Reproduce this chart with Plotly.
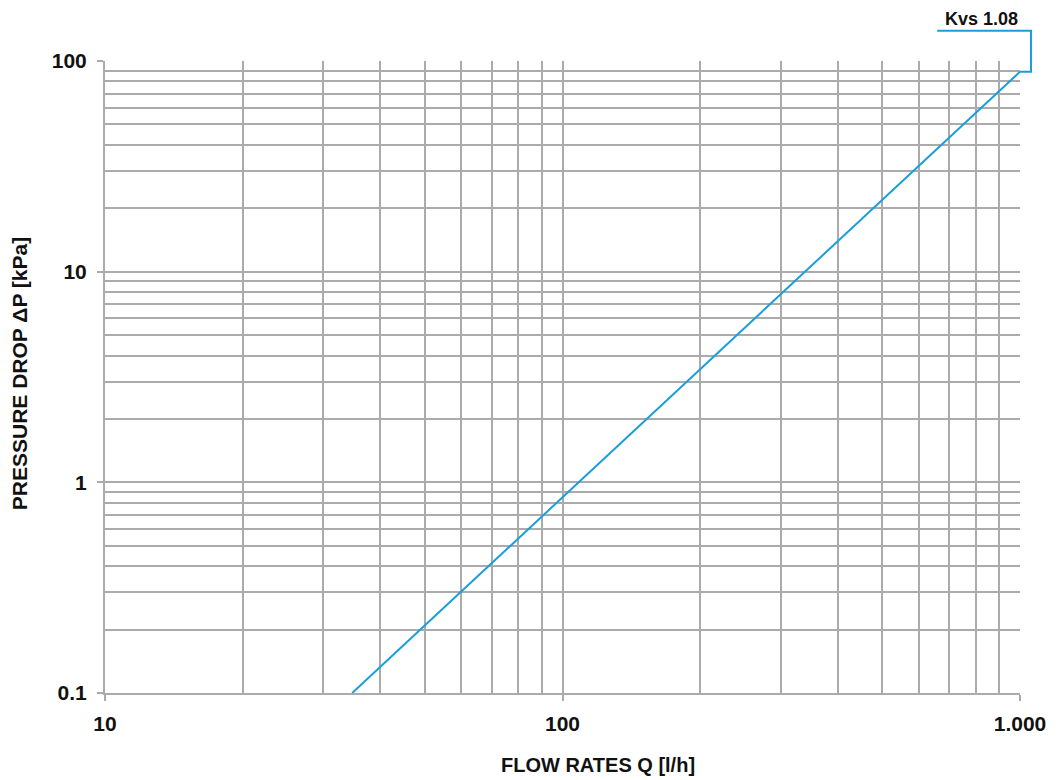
import plotly.graph_objects as go
import numpy as np

# Pressure-drop curve for the valve (end points read at the chart frame)
flow_lh = [34.7, 1000]
dp_kpa = [0.1, 89]
kvs_label = "Kvs 1.08"

x_major = [10, 100, 1000]
x_major_text = ["10", "100", "1.000"]
x_minor = [20, 30, 40, 50, 60, 70, 80, 90, 200, 300, 400, 500, 600, 700, 800, 900]
y_major = [0.1, 1, 10, 100]
y_major_text = ["0.1", "1", "10", "100"]
y_minor = [0.2, 0.3, 0.4, 0.5, 0.6, 0.7, 0.8, 0.9,
           2, 3, 4, 5, 6, 7, 8, 9,
           20, 30, 40, 50, 60, 70, 80, 90]

X_RANGE = [1, 3]
Y_RANGE = [-1, 2]

GRID = "#ababab"
BLUE = "#1a9edb"
INK = "#111111"
FONT = "Liberation Sans, Arial, sans-serif"

fig = go.Figure()
fig.add_trace(go.Scatter(x=flow_lh, y=dp_kpa, mode="lines",
                         line=dict(color=BLUE, width=2), showlegend=False,
                         hoverinfo="skip"))


def to_paper(v, rng):
    return (np.log10(v) - rng[0]) / (rng[1] - rng[0])


# Leader from the curve end up to the Kvs label
px0 = to_paper(flow_lh[-1], X_RANGE)
py0 = to_paper(dp_kpa[-1], Y_RANGE)
elbow_x = px0 + 0.012
top_y = 1.048
left_x = px0 - 0.0905
path = (f"M {px0},{py0} L {elbow_x},{py0} L {elbow_x},{top_y} L {left_x},{top_y}")
fig.add_shape(type="path", path=path, xref="paper", yref="paper",
              line=dict(color=BLUE, width=2))

axis_common = dict(
    showline=True, linecolor=GRID, linewidth=2,
    showgrid=True, gridcolor=GRID, gridwidth=1.5,
    ticks="outside", ticklen=6, tickcolor=GRID, tickwidth=1.5,
    tickfont=dict(family=FONT, size=21, color=INK, weight="bold"),
    zeroline=False, mirror=False,
)

fig.update_xaxes(type="log", range=X_RANGE, tickmode="array",
                 tickvals=x_major, ticktext=x_major_text,
                 minor=dict(tickvals=x_minor, showgrid=True, gridcolor=GRID,
                            gridwidth=1.5, ticks=""),
                 ticklabelstandoff=5, **axis_common)
fig.update_yaxes(type="log", range=Y_RANGE, tickmode="array",
                 tickvals=y_major, ticktext=y_major_text,
                 minor=dict(tickvals=y_minor, showgrid=True, gridcolor=GRID,
                            gridwidth=1.5, ticks=""),
                 ticklabelstandoff=6, **axis_common)

fig.add_annotation(text="<b>FLOW RATES Q [l/h]</b>", xref="paper", yref="paper",
                   x=0.539, y=-0.114, xanchor="center", yanchor="middle",
                   showarrow=False, font=dict(family=FONT, size=20, color=INK))
fig.add_annotation(text="<b>PRESSURE DROP ΔP [kPa]</b>", xref="paper", yref="paper",
                   x=-0.094, y=0.506, xanchor="center", yanchor="middle",
                   textangle=-90, showarrow=False,
                   font=dict(family=FONT, size=21, color=INK))
fig.add_annotation(text="<b>" + kvs_label + "</b>", xref="paper", yref="paper",
                   x=0.958, y=1.067, xanchor="center", yanchor="middle",
                   showarrow=False, font=dict(family=FONT, size=18, color=INK))

fig.update_layout(width=1057, height=780,
                  margin=dict(l=105, r=37, t=61, b=87),
                  paper_bgcolor="white", plot_bgcolor="white")

fig.write_html("out.html")
